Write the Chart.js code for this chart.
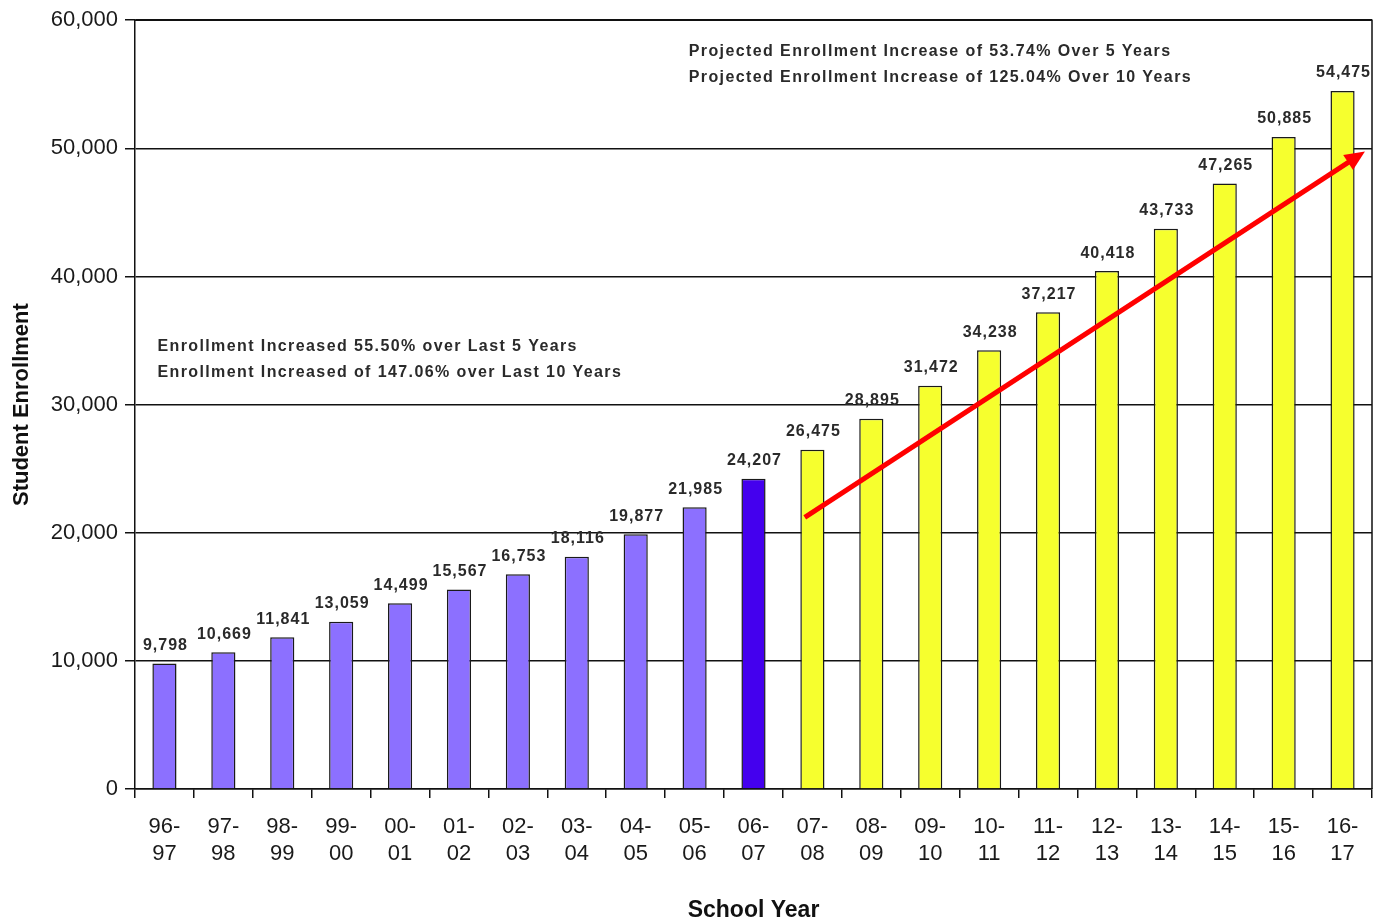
<!DOCTYPE html>
<html>
<head>
<meta charset="utf-8">
<script src="https://cdn.jsdelivr.net/npm/chart.js@4.4.1/dist/chart.umd.min.js"></script>
<style>
  html, body { margin: 0; padding: 0; background: #fff; }
  #wrap { width: 1376px; height: 924px; position: relative; }
</style>
</head>
<body>
<div id="wrap"><canvas id="grafico"></canvas></div>
<script>
// dados
const anos = [
  ['96-', '97'], ['97-', '98'], ['98-', '99'], ['99-', '00'], ['00-', '01'],
  ['01-', '02'], ['02-', '03'], ['03-', '04'], ['04-', '05'], ['05-', '06'],
  ['06-', '07'], ['07-', '08'], ['08-', '09'], ['09-', '10'], ['10-', '11'],
  ['11-', '12'], ['12-', '13'], ['13-', '14'], ['14-', '15'], ['15-', '16'],
  ['16-', '17']
];
const matriculas = [
  9798, 10669, 11841, 13059, 14499, 15567, 16753, 18116, 19877, 21985,
  24207, 26475, 28895, 31472, 34238, 37217, 40418, 43733, 47265, 50885,
  54475
];
// tipo: 'real', 'atual' ou 'proj'
const tipo = [
  'real', 'real', 'real', 'real', 'real', 'real', 'real', 'real', 'real', 'real',
  'atual', 'proj', 'proj', 'proj', 'proj', 'proj', 'proj', 'proj', 'proj', 'proj',
  'proj'
];
const yTicks = [0, 10000, 20000, 30000, 40000, 50000, 60000];

// notas (ancoradas em índice de categoria / valor)
const notaTopo = ['Projected Enrollment Increase of 53.74% Over 5 Years',
                  'Projected Enrollment Increase of 125.04% Over 10 Years'];
const notaTopoPos = [8.9, 57550];
const notaEsq = ['Enrollment Increased 55.50% over Last 5 Years',
                 'Enrollment Increased of 147.06% over Last 10 Years'];
const notaEsqPos = [-0.12, 34550];

// seta de tendência: [índice, valor] início e fim
const setaInicio = [10.87, 21200];
const setaFim = [20.38, 49750];

const cores = { real: '#8C70FF', atual: '#4400EE', proj: '#F6FF2E' };

const fonte = '"Liberation Sans", Arial, sans-serif';

const rotulos = {
  id: 'rotulos',
  afterDatasetsDraw(chart) {
    const ctx = chart.ctx;
    const meta = chart.getDatasetMeta(0);
    ctx.save();
    ctx.font = 'bold 16px ' + fonte;
    ctx.letterSpacing = '1px';
    ctx.fillStyle = '#2a2a2a';
    ctx.textAlign = 'center';
    ctx.textBaseline = 'bottom';
    meta.data.forEach((bar, i) => {
      ctx.fillText(matriculas[i].toLocaleString('en-US'), bar.x + 1, bar.y - 10);
    });
    ctx.restore();
  }
};

const extras = {
  id: 'extras',
  afterDraw(chart) {
    const ctx = chart.ctx;
    const { x, y } = chart.scales;
    const a = chart.chartArea;
    ctx.save();

    // moldura superior e direita
    ctx.strokeStyle = '#111';
    ctx.lineWidth = 1.5;
    ctx.beginPath();
    ctx.moveTo(a.left, a.top);
    ctx.lineTo(a.right, a.top);
    ctx.lineTo(a.right, a.bottom);
    ctx.stroke();

    // notas
    ctx.font = 'bold 16px ' + fonte;
    ctx.letterSpacing = '1.4px';
    ctx.fillStyle = '#2a2a2a';
    ctx.textAlign = 'left';
    ctx.textBaseline = 'middle';
    const tx = x.getPixelForValue(notaTopoPos[0]);
    const ty = y.getPixelForValue(notaTopoPos[1]);
    notaTopo.forEach((t, i) => ctx.fillText(t, tx, ty + i * 26));
    const ex = x.getPixelForValue(notaEsqPos[0]);
    const ey = y.getPixelForValue(notaEsqPos[1]);
    notaEsq.forEach((t, i) => ctx.fillText(t, ex, ey + i * 26));
    ctx.letterSpacing = '0px';

    // seta
    const x0 = x.getPixelForValue(setaInicio[0]);
    const y0 = y.getPixelForValue(setaInicio[1]);
    const x1 = x.getPixelForValue(setaFim[0]);
    const y1 = y.getPixelForValue(setaFim[1]);
    const ang = Math.atan2(y1 - y0, x1 - x0);
    const cab = 22;
    ctx.strokeStyle = '#FF0000';
    ctx.fillStyle = '#FF0000';
    ctx.lineWidth = 5;
    ctx.beginPath();
    ctx.moveTo(x0, y0);
    ctx.lineTo(x1 - Math.cos(ang) * cab * 0.8, y1 - Math.sin(ang) * cab * 0.8);
    ctx.stroke();
    ctx.beginPath();
    ctx.moveTo(x1, y1);
    ctx.lineTo(x1 - cab * Math.cos(ang - 0.42), y1 - cab * Math.sin(ang - 0.42));
    ctx.lineTo(x1 - cab * Math.cos(ang + 0.42), y1 - cab * Math.sin(ang + 0.42));
    ctx.closePath();
    ctx.fill();

    ctx.restore();
  }
};

new Chart(document.getElementById('grafico'), {
  type: 'bar',
  data: {
    labels: anos,
    datasets: [{
      label: 'Student Enrollment',
      data: matriculas,
      backgroundColor: tipo.map(t => cores[t]),
      borderColor: '#1a1a1a',
      borderWidth: 1.5,
      barPercentage: 0.41,
      categoryPercentage: 1
    }]
  },
  options: {
    responsive: true,
    maintainAspectRatio: false,
    animation: false,
    layout: { padding: { top: 20, right: 4, left: 0, bottom: 0 } },
    plugins: {
      legend: { display: false },
      tooltip: { enabled: false }
    },
    scales: {
      x: {
        offset: true,
        grid: {
          offset: true,
          drawOnChartArea: false,
          color: '#111',
          tickLength: 9,
          lineWidth: 1.5
        },
        border: { color: '#111', width: 1.5 },
        ticks: {
          color: '#1a1a1a',
          font: { family: fonte, size: 22 },
          maxRotation: 0,
          autoSkip: false,
          padding: 16,
          lineHeight: 1.2
        },
        title: {
          display: true,
          text: 'School Year',
          color: '#111',
          font: { family: fonte, size: 23, weight: 'bold' },
          padding: { top: 32, bottom: 0 }
        },
        afterFit(scale) { scale.height = 135; }
      },
      y: {
        min: 0,
        max: 60000,
        afterBuildTicks(scale) { scale.ticks = yTicks.map(v => ({ value: v })); },
        grid: {
          color: '#111',
          lineWidth: 1.5,
          tickLength: 10
        },
        border: { color: '#111', width: 1.5 },
        ticks: {
          color: '#1a1a1a',
          font: { family: fonte, size: 22 },
          padding: 7,
          callback: v => v.toLocaleString('en-US')
        },
        title: {
          display: true,
          text: 'Student Enrollment',
          color: '#111',
          font: { family: fonte, size: 22, weight: 'bold' },
          padding: { top: 9, bottom: 6 }
        },
        afterFit(scale) { scale.width = 135; }
      }
    }
  },
  plugins: [rotulos, extras]
});
</script>
</body>
</html>
